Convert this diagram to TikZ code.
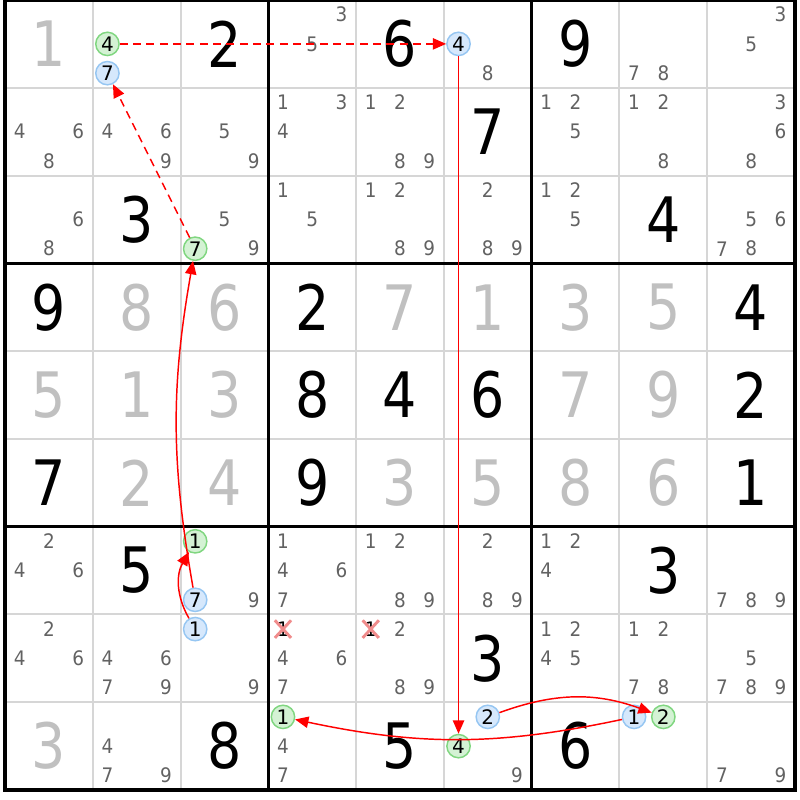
\documentclass[tikz,border=0pt]{standalone}
\usepackage{fontspec}
\setmainfont{DejaVu Sans}
\usetikzlibrary{arrows.meta,shapes.misc}
\definecolor{solvedgray}{RGB}{192,192,192}
\definecolor{candgray}{RGB}{98,98,98}
\definecolor{gridgray}{RGB}{214,214,214}
\definecolor{onfill}{RGB}{212,242,212}
\definecolor{onedge}{RGB}{128,214,128}
\definecolor{offfill}{RGB}{214,232,252}
\definecolor{offedge}{RGB}{150,198,242}
\definecolor{xpink}{RGB}{240,140,140}
\newcommand\cellsz{87.78}
\newcommand\cand[4][cand]{\pgfmathsetmacro\cx{5+\cellsz*(#3-1)+\cellsz/3*(mod(#4-1,3)+0.5)}\pgfmathsetmacro\cy{\cellsz*(#2-1)+\cellsz/3*(int((#4-1)/3)+0.5)}\node[#1] (n#2#3#4) at (\cx,\cy) {#4};}
\newcommand\bigd[4]{\node[#1] (g#2#3) at ({5+\cellsz*(#3-0.5)},{\cellsz*(#2-0.5)}) {#4};}

\begin{document}
\begin{tikzpicture}[x=0.75pt,y=-0.75pt,
  candbase/.style={text=candgray,inner sep=0pt,font=\fontsize{15}{15}\selectfont},
  cand/.style={candbase,xscale=0.92},
  on/.style={candbase,text=black,circle,draw=onedge,fill=onfill,line width=1.1pt,minimum size=17.5pt},
  off/.style={candbase,text=black,circle,draw=offedge,fill=offfill,line width=1.1pt,minimum size=17.5pt},
  xmark/.style={cand,text=black,cross out,draw=xpink,line width=2.2pt,minimum size=11pt},
  given/.style={text=black,inner sep=0pt,xscale=0.86,font=\fontsize{47}{47}\selectfont},
  solved/.style={given,text=solvedgray},
  link/.style={red,line width=1.1pt,-{Triangle[length=10pt,width=8.5pt]}},
  weak/.style={link,dash pattern=on 6pt off 4pt}]
\useasboundingbox (0,0) rectangle (800,800);
\foreach \i in {0,...,9} {\draw[gridgray,line width=1.5pt] (5+\i*\cellsz,0) -- (5+\i*\cellsz,790); \draw[gridgray,line width=1.5pt] (5,\i*\cellsz) -- (795,\i*\cellsz);}
\foreach \i in {3,6} {\draw[black,line width=2.25pt] (5+\i*\cellsz,0) -- (5+\i*\cellsz,790); \draw[black,line width=2.25pt] (5,\i*\cellsz) -- (795,\i*\cellsz);}
\draw[black,line width=3pt] (5,0) rectangle (795,790);
\foreach \r/\c/\d in {1/3/2,1/5/6,1/7/9,2/6/7,3/2/3,3/8/4,4/1/9,4/4/2,4/9/4,5/4/8,5/5/4,5/6/6,5/9/2,6/1/7,6/4/9,6/9/1,7/2/5,7/8/3,8/6/3,9/3/8,9/5/5,9/7/6} {\bigd{given}{\r}{\c}{\d}}
\foreach \r/\c/\d in {1/1/1,4/2/8,4/3/6,4/5/7,4/6/1,4/7/3,4/8/5,5/1/5,5/2/1,5/3/3,5/7/7,5/8/9,6/2/2,6/3/4,6/5/3,6/6/5,6/7/8,6/8/6,9/1/3} {\bigd{solved}{\r}{\c}{\d}}
\foreach \r/\c/\ds in {1/4/{3,5},1/6/{8},1/8/{7,8},1/9/{3,5},
  2/1/{4,6,8},2/2/{4,6,9},2/3/{5,9},2/4/{1,3,4},2/5/{1,2,8,9},2/7/{1,2,5},2/8/{1,2,8},2/9/{3,6,8},
  3/1/{6,8},3/3/{5,9},3/4/{1,5},3/5/{1,2,8,9},3/6/{2,8,9},3/7/{1,2,5},3/9/{5,6,7,8},
  7/1/{2,4,6},7/3/{9},7/4/{1,4,6,7},7/5/{1,2,8,9},7/6/{2,8,9},7/7/{1,2,4},7/9/{7,8,9},
  8/1/{2,4,6},8/2/{4,6,7,9},8/3/{9},8/4/{4,6,7},8/5/{2,8,9},8/7/{1,2,4,5},8/8/{1,2,7,8},8/9/{5,7,8,9},
  9/2/{4,7,9},9/4/{4,7},9/6/{9},9/9/{7,9}} {\foreach \d in \ds {\cand{\r}{\c}{\d}}}
\cand[xmark]{8}{4}{1}
\cand[xmark]{8}{5}{1}
\foreach \r/\c/\d in {1/2/4,3/3/7,7/3/1,9/4/1,9/6/4,9/8/2} {\cand[on]{\r}{\c}{\d}}
\foreach \r/\c/\d in {1/2/7,1/6/4,7/3/7,8/3/1,9/6/2,9/8/1} {\cand[off]{\r}{\c}{\d}}
\draw[weak] (n124) -- (n164);
\draw[weak] (n337) -- (n127);
\draw[link] (n164) -- (n964);
\draw[link] (n962) to[bend left=20] (n982);
\draw[link] (n981) to[bend left=12] (n941);
\draw[link] (n831) to[bend left=30] (n731);
\draw[link] (n737) to[bend left=10] (n337);
\end{tikzpicture}
\end{document}
